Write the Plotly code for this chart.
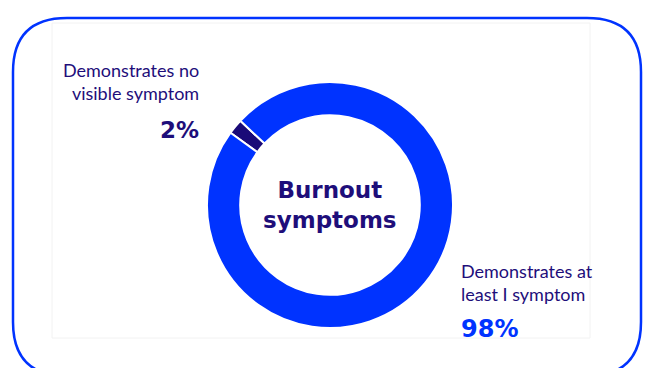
import plotly.graph_objects as go

labels = ["Demonstrates no visible symptom", "Demonstrates at least I symptom"]
values = [2, 98]
colors = ["#1a0a78", "#0033ff"]
center_title = "Burnout symptoms"

# page body has an 8px margin; figure sized to fill the rest of the window
OFF = 8
W, H = 651 - OFF, 368 - OFF

fig = go.Figure()
fig.add_trace(go.Pie(
    labels=labels, values=values, hole=0.73, sort=False, direction="clockwise",
    rotation=-54,
    marker=dict(colors=colors, line=dict(color="white", width=2)),
    textinfo="none", hoverinfo="label+percent", showlegend=False,
    domain=dict(x=[(207 - OFF) / W, (453 - OFF) / W],
                y=[1 - (328 - OFF) / H, 1 - (82 - OFF) / H]),
))

# rounded border (screen-pixel coordinates)
x0, x1, y0, y1, r = 13, 641, 18, 376, 54
path = (f"M {x0+r},{y0} L {x1-r},{y0} Q {x1},{y0} {x1},{y0+r} "
        f"L {x1},{y1-r} Q {x1},{y1} {x1-r},{y1} L {x0+r},{y1} "
        f"Q {x0},{y1} {x0},{y1-r} L {x0},{y0+r} Q {x0},{y0} {x0+r},{y0} Z")
fig.add_shape(type="path", path=path, xref="x", yref="y",
              line=dict(color="#0033ff", width=2.5))
fig.add_shape(type="rect", x0=52, x1=590, y0=23, y1=338, xref="x", yref="y",
              line=dict(color="#f2f2f2", width=1))

navy = "#1e0e7a"
font_lbl = "Lato, Noto Sans, sans-serif"
ann = [
    dict(x=201, y=81, text="Demonstrates no<br>visible symptom", xanchor="right",
         align="right", font=dict(size=18, color=navy, family=font_lbl)),
    dict(x=201, y=130, text=f"<b>{values[0]}%</b>", xanchor="right",
         font=dict(size=23, color=navy, family="DejaVu Sans, sans-serif")),
    dict(x=459, y=282, text="Demonstrates at<br>least I symptom", xanchor="left",
         align="left", font=dict(size=18, color=navy, family=font_lbl)),
    dict(x=459, y=329, text=f"<b>{values[1]}%</b>", xanchor="left",
         font=dict(size=24, color="#0033ff", family="DejaVu Sans, sans-serif")),
    dict(x=330, y=205, text="<b>Burnout<br>symptoms</b>", xanchor="center",
         align="center", font=dict(size=23, color=navy, family="DejaVu Sans, sans-serif")),
]
for a in ann:
    fig.add_annotation(xref="x", yref="y", showarrow=False, yanchor="middle", **a)

fig.update_layout(
    width=W, height=H, margin=dict(l=0, r=0, t=0, b=0),
    paper_bgcolor="white", plot_bgcolor="rgba(0,0,0,0)",
    xaxis=dict(range=[OFF, OFF + W], visible=False, fixedrange=True),
    yaxis=dict(range=[OFF + H, OFF], visible=False, fixedrange=True),
)
fig.write_html("out.html")
